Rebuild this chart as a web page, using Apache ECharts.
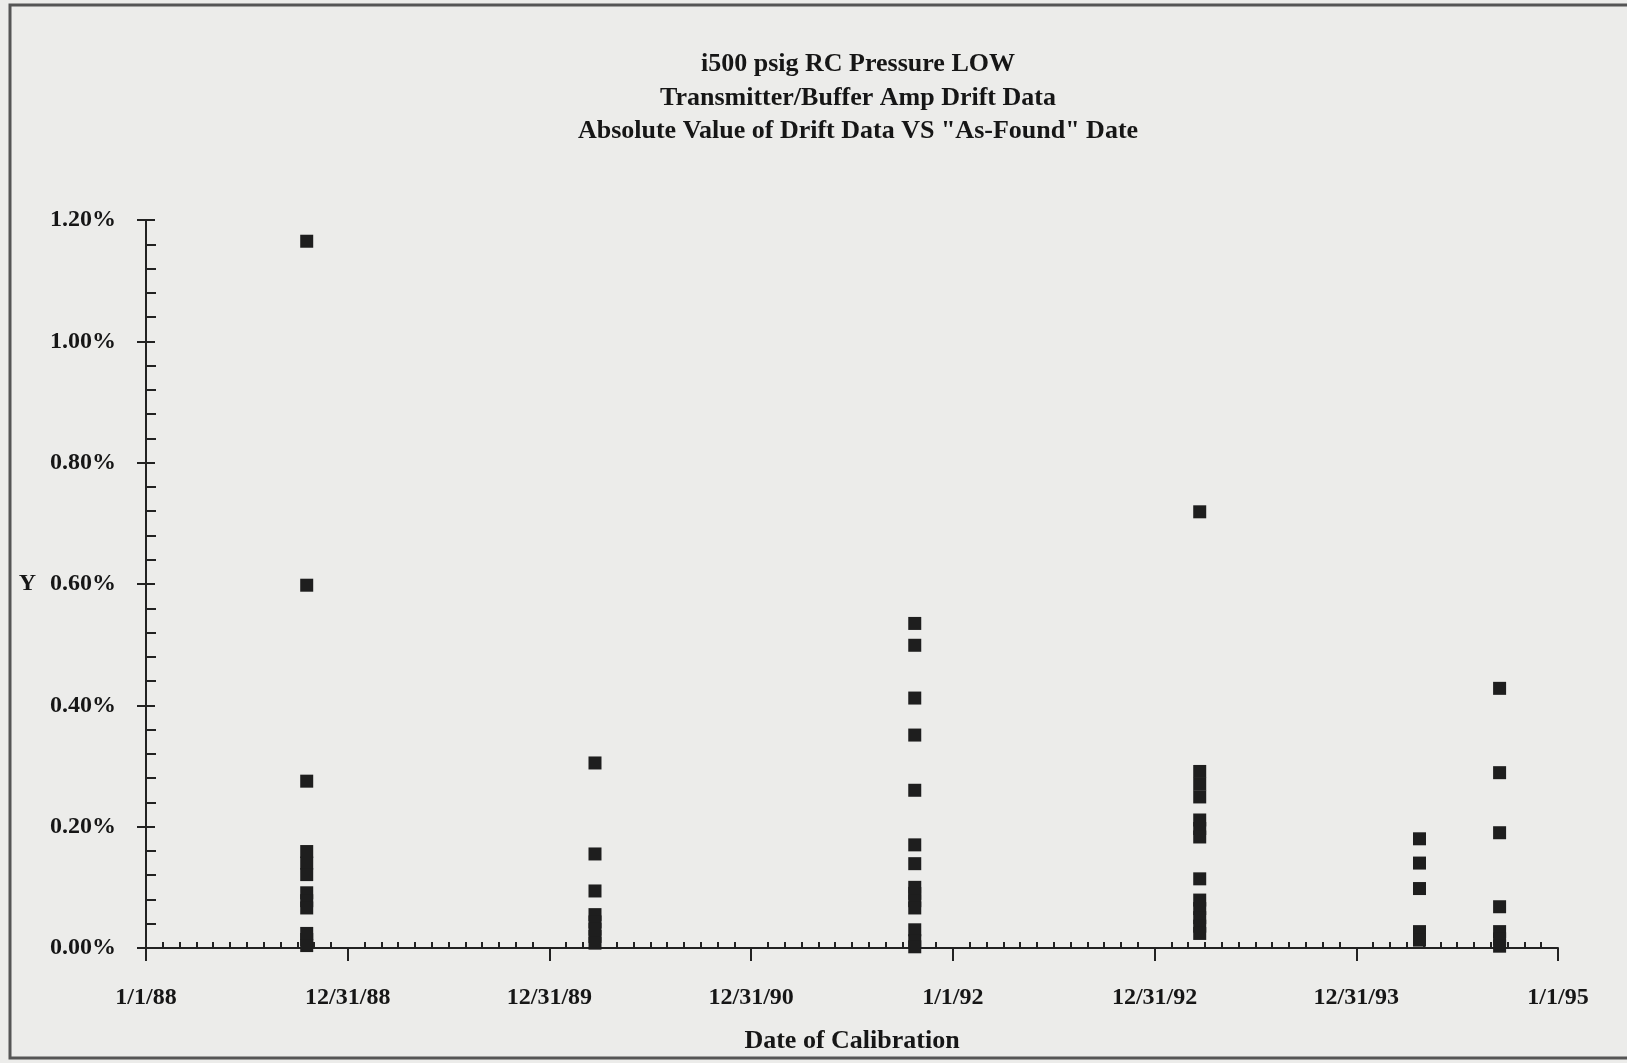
<!DOCTYPE html>
<html>
<head>
<meta charset="utf-8">
<script src="https://cdn.jsdelivr.net/npm/echarts@6/dist/echarts.min.js"></script>
<style>
html,body{margin:0;padding:0;background:#ececea;}
#chart{width:1627px;height:1063px;}
</style>
</head>
<body>
<div id="chart"></div>
<script>
// ---- data ----
const titleLines = ['i500 psig RC Pressure LOW', 'Transmitter/Buffer Amp Drift Data', 'Absolute Value of Drift Data VS "As-Found" Date'];
const xTickLabels = ['1/1/88', '12/31/88', '12/31/89', '12/31/90', '1/1/92', '12/31/92', '12/31/93', '1/1/95'];
const xAxisTitle = 'Date of Calibration';
const yAxisTitle = 'Y';
const calDates = ['1988-10-18', '1990-03-24', '1991-10-24', '1993-03-23', '1994-04-25', '1994-09-17'];
const drift1988 = [1.165, 0.598, 0.275, 0.159, 0.140, 0.121, 0.091, 0.078, 0.066, 0.024, 0.014, 0.004];
const drift1990 = [0.305, 0.155, 0.094, 0.055, 0.043, 0.031, 0.019, 0.008];
const drift1991 = [0.535, 0.499, 0.412, 0.351, 0.260, 0.170, 0.139, 0.100, 0.090, 0.078, 0.066, 0.030, 0.012, 0.002];
const drift1993 = [0.719, 0.291, 0.270, 0.249, 0.211, 0.197, 0.183, 0.114, 0.079, 0.065, 0.050, 0.036, 0.024];
const drift1994a = [0.180, 0.140, 0.098, 0.027, 0.013];
const drift1994b = [0.428, 0.289, 0.190, 0.068, 0.027, 0.015, 0.003];
const driftGroups = [drift1988, drift1990, drift1991, drift1993, drift1994a, drift1994b];

// ---- build ----
const DAY = 86400000;
const ORIGIN = Date.UTC(1988, 0, 1);
const YEAR_STEP = 365.25;
function dayOffset(s) {
  const p = s.split('-').map(Number);
  return (Date.UTC(p[0], p[1] - 1, p[2]) - ORIGIN) / DAY;
}
const points = [];
calDates.forEach((d, i) => {
  const x = dayOffset(d);
  driftGroups[i].forEach(v => points.push([x, v]));
});

const FONT = '"Liberation Serif", "Times New Roman", serif';
const INK = '#161616';
const xMax = YEAR_STEP * (xTickLabels.length - 1);

const chart = echarts.init(document.getElementById('chart'), null, {renderer: 'canvas'});
chart.setOption({
  backgroundColor: '#ececea',
  animation: false,
  title: {
    text: titleLines.join('\n'),
    left: 853, top: 43, textAlign: 'center',
    textStyle: {fontFamily: FONT, fontWeight: 'bold', fontSize: 26, lineHeight: 33.5, color: INK}
  },
  grid: {left: 146, right: 69, top: 220, bottom: 115, containLabel: false},
  xAxis: [{
    type: 'value', position: 'bottom', min: 0, max: xMax, interval: YEAR_STEP,
    axisLine: {onZero: false, lineStyle: {color: '#222', width: 2}},
    axisTick: {show: true, inside: false, length: 13, lineStyle: {color: '#222', width: 2}},
    minorTick: {show: false},
    splitLine: {show: false},
    axisLabel: {
      margin: 38, fontFamily: FONT, fontWeight: 'bold', fontSize: 24, color: INK,
      formatter: v => xTickLabels[Math.round(v / YEAR_STEP)] || ''
    },
    name: xAxisTitle, nameLocation: 'middle', nameGap: 80,
    nameTextStyle: {fontFamily: FONT, fontWeight: 'bold', fontSize: 26, color: INK}
  }, {
    type: 'value', position: 'bottom', min: 0, max: xMax, interval: YEAR_STEP,
    axisLine: {show: false, onZero: false},
    axisTick: {show: false, inside: true},
    minorTick: {show: true, splitNumber: 12, length: 6, lineStyle: {color: '#222', width: 2}},
    splitLine: {show: false}, axisLabel: {show: false}
  }],
  yAxis: [{
    type: 'value', position: 'left', min: 0, max: 1.2, interval: 0.2,
    axisLine: {show: true, onZero: false, lineStyle: {color: '#222', width: 2}},
    axisTick: {show: true, inside: false, length: 9, lineStyle: {color: '#222', width: 2}},
    minorTick: {show: false},
    splitLine: {show: false},
    axisLabel: {
      margin: 30, fontFamily: FONT, fontWeight: 'bold', fontSize: 24, color: INK,
      formatter: v => v.toFixed(2) + '%'
    },
    name: yAxisTitle, nameLocation: 'middle', nameRotate: 0, nameGap: 110,
    nameTextStyle: {fontFamily: FONT, fontWeight: 'bold', fontSize: 24, color: INK}
  }, {
    type: 'value', position: 'left', min: 0, max: 1.2, interval: 0.2,
    axisLine: {show: false, onZero: false},
    axisTick: {show: true, inside: true, length: 9, lineStyle: {color: '#222', width: 2}},
    minorTick: {show: true, splitNumber: 5, length: 10, lineStyle: {color: '#222', width: 2}},
    splitLine: {show: false}, axisLabel: {show: false}
  }],
  graphic: [{
    type: 'rect', shape: {x: 10, y: 5, width: 1640, height: 1053},
    style: {fill: null, stroke: '#555', lineWidth: 3}, silent: true, z: 100
  }],
  series: [{
    type: 'scatter', xAxisIndex: 0, yAxisIndex: 0,
    symbol: 'rect', symbolSize: 13,
    itemStyle: {color: '#1e1e1e', opacity: 1},
    data: points
  }]
});
</script>
</body>
</html>
